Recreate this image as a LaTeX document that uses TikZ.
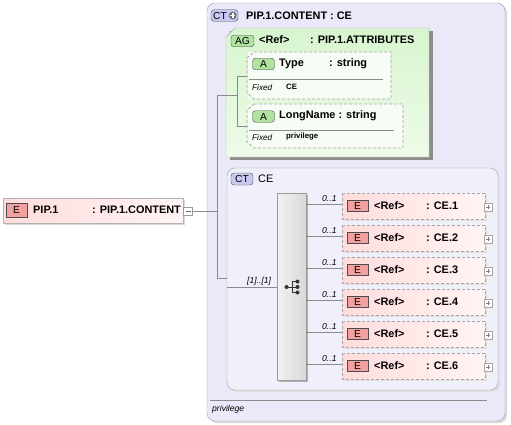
\documentclass[tikz,border=0pt]{standalone}
\usepackage{fontspec}
\setmainfont{Liberation Sans}
\usetikzlibrary{calc}
\definecolor{ctfill}{HTML}{E9E9FA}
\definecolor{ctline}{HTML}{A0A0A8}
\definecolor{agfill}{HTML}{D8F5CF}
\definecolor{agfill2}{HTML}{EEFBE9}
\definecolor{efill}{HTML}{FFDCDC}
\definecolor{efill2}{HTML}{FFF4F4}
\definecolor{ebadge}{HTML}{F2A0A0}
\definecolor{abadge}{HTML}{B0E2A0}
\definecolor{ctbadge}{HTML}{C8C8F2}
\definecolor{conn}{HTML}{8A8A8A}
\tikzset{
  hdr/.style={font=\bfseries\fontsize{10.9}{12}\selectfont, anchor=west, inner sep=0},
  small/.style={font=\bfseries\fontsize{7.8}{9}\selectfont, anchor=west, inner sep=0},
  ital/.style={font=\itshape\fontsize{8.6}{10}\selectfont, anchor=west, inner sep=0},
  badge/.style={draw=black!70, rounded corners=3pt, font=\fontsize{10.2}{11}\selectfont, inner sep=0, minimum height=11.5pt, anchor=center},
  dashbox/.style={draw=black!35, dashed, dash pattern=on 3pt off 2pt, line width=0.8pt},
  conline/.style={draw=conn, line width=0.6pt},
}
\begin{document}
\begin{tikzpicture}[x=1pt,y=-1pt]
\useasboundingbox (0,0) rectangle (511,424);
% outer CT box
\fill[black!15, rounded corners=8pt] (209,5) rectangle (507,423);
\draw[ctline, fill=ctfill, rounded corners=8pt] (207,3) rectangle (505,421);
\node[badge, fill=ctbadge, minimum width=27pt] (ctb) at (224.5,15.5) {};
\node[inner sep=0, font=\fontsize{10.2}{11}\selectfont, anchor=center] (ctbt) at (220,15.5) {CT};
\fill[conn!80!black] (232.8,15.5) circle (3.9pt);
\draw[white, line width=1.4pt] (230.2,15.5) -- (235.4,15.5) (232.8,12.9) -- (232.8,18.1);
\node[hdr] (cthdr) at (246,15.5) {PIP.1.CONTENT : CE};
% AG box
\fill[black!45] (230,31) -- (433,31) -- (433,160) -- (230,160) -- cycle;
\shade[top color=agfill, bottom color=agfill2] (235,28) -- (429,28) -- (429,157) -- (226,157) -- (226,37) -- cycle;
\draw[black!30] (235,28) -- (429,28) -- (429,157) -- (226,157) -- (226,37) -- cycle;
\node[badge, fill=abadge, minimum width=23pt] (agb) at (242.5,41) {AG};
\node[hdr] (agref) at (259,40) {<Ref>};
\node[hdr] (agtype) at (310,40) {: PIP.1.ATTRIBUTES};
% Type attribute
\fill[white!80!agfill] (248,52) rectangle (391,99);
\draw[dashbox] (254,52) -- (391,52) -- (391,99) -- (254,99) -- (247,93) -- (247,58) -- cycle;
\node[badge, fill=abadge, minimum width=22pt] (ab1) at (263.5,64) {A};
\node[hdr] (typen) at (279,63.5) {Type};
\node[hdr] (typet) at (329,63.5) {: string};
\draw[black!45] (249,79) -- (383,79);
\node[ital, font=\itshape\fontsize{8.2}{9}\selectfont] (fx1) at (252,87.5) {Fixed};
\node[small] (fv1) at (286,86.5) {CE};
% LongName attribute
\fill[white!80!agfill] (248,104) rectangle (403,148);
\draw[dashbox] (254,104) -- (403,104) -- (403,148) -- (254,148) -- (247,142) -- (247,110) -- cycle;
\node[badge, fill=abadge, minimum width=22pt] (ab2) at (263.5,116.5) {A};
\node[hdr] (lnn) at (279,116) {LongName : string};
\draw[black!45] (249,130) -- (394,130);
\node[ital, font=\itshape\fontsize{8.2}{9}\selectfont] (fx2) at (252,137.5) {Fixed};
\node[small] (fv2) at (286,136.5) {privilege};
% attribute connectors
\coordinate (j1) at (237.5,95);
\draw[conline] (237.5,76) -- (247,76) (237.5,76) -- (237.5,126) -- (247,126);
% E PIP.1 node
\fill[black!15] (5,200) rectangle (185,225);
\shade[left color=efill, right color=efill2] (3,198) rectangle (183,223);
\draw[black!30] (3,198) rectangle (183,223);
\node[badge, fill=ebadge, rounded corners=0pt, minimum width=21pt, minimum height=14pt] (eb0) at (16.5,210) {E};
\node[hdr] (pip) at (33,210) {PIP.1};
\node[hdr] (pipt) at (92,210) {: PIP.1.CONTENT};
\node[draw=black!40, fill=white, minimum width=9pt, minimum height=8pt, inner sep=0] (minus) at (188,211) {};
\draw[black!60] (185.5,211) -- (190.5,211);
% CT CE box
\fill[black!12, rounded corners=8pt] (229,170) rectangle (500,392);
\draw[ctline, fill=ctfill!70!white, rounded corners=8pt] (227,168) rectangle (498,390);
\node[badge, fill=ctbadge, minimum width=22pt, minimum height=12pt] (ctb2) at (242,179) {CT};
\node[hdr, font=\fontsize{10.9}{12}\selectfont] (cename) at (258,178.5) {CE};
% sequence box
\fill[black!30] (279,195) rectangle (308,382);
\shade[left color=white!95!black, right color=black!15] (277,193) rectangle (306,380);
\draw[black!40] (277,193) rectangle (306,380);
\node[inner sep=0, minimum width=16pt, minimum height=14pt] (seqicon) at (292,287) {};
\draw[black!80, line width=0.8pt] (286.5,287) -- (292,287) (292,281.5) -- (292,292.5) (292,281.5) -- (297,281.5) (292,287) -- (297,287) (292,292.5) -- (297,292.5);
\foreach \p in {(286.5,287),(297.5,281.5),(297.5,287),(297.5,292.5)} \fill[black!80] \p circle (2pt);
% main connectors
\coordinate (v1) at (217,211);
\draw[conline] (minus.east) -- (v1);
\draw[conline] (j1) -- (217,95) -- (217,278) -- (227,278);
\draw[conline] (227,287) -- (277,287);
\node[ital] (mult) at (247,281.5) {[1]..[1]};
% elements
\foreach \i/\y in {1/193,2/225,3/257,4/289,5/321,6/353}{
  \fill[black!12] (344,\y+2) rectangle (487,\y+28);
  \shade[left color=efill, right color=efill2] (342,\y) rectangle (485,\y+26);
  \draw[dashbox] (342,\y) rectangle (485,\y+26);
  \node[badge, fill=ebadge, rounded corners=0pt, minimum width=21pt, minimum height=11pt] (eb\i) at (357.5,\y+13) {E};
  \node[hdr] (ref\i) at (374,\y+12.5) {<Ref>};
  \node[hdr] (cen\i) at (426,\y+12.5) {: CE.\i};
  \node[draw=black!35, fill=white, minimum size=7.5pt, inner sep=0] (plus\i) at (488,\y+14) {};
  \draw[black!50] (485.8,\y+14) -- (490.2,\y+14) (488,\y+11.8) -- (488,\y+16.2);
  \draw[conline] (306,\y+11) -- (342,\y+11);
  \node[ital] (m\i) at (322,\y+5.5) {0..1};
}
% bottom separator
\draw[black!45] (210,400) -- (487,400);
\node[ital] (priv) at (212,409) {privilege};
\end{tikzpicture}
\end{document}
